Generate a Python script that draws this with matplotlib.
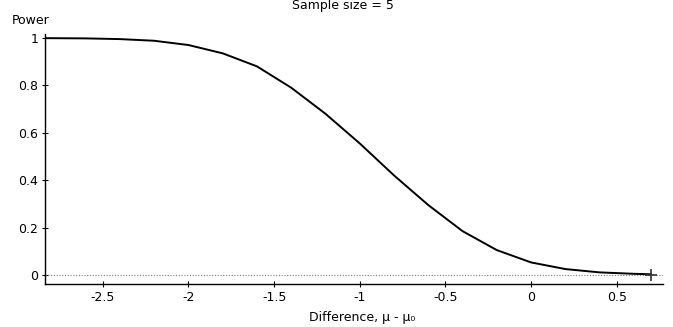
import numpy as np
import matplotlib
matplotlib.use('Agg')
import matplotlib.pyplot as plt

# values
diff = [-2.84, -2.6, -2.4, -2.2, -2.0, -1.8, -1.6, -1.4, -1.2, -1.0,
        -0.8, -0.6, -0.4, -0.2, 0.0, 0.2, 0.4, 0.6, 0.70]
power = [0.999, 0.998, 0.995, 0.988, 0.97, 0.935, 0.88, 0.79, 0.68, 0.555,
         0.42, 0.295, 0.185, 0.105, 0.053, 0.025, 0.011, 0.005, 0.003]
marker_x = [0.70]
marker_y = [0.0]
xticks = [-2.5, -2, -1.5, -1, -0.5, 0, 0.5]
yticks = [0, 0.2, 0.4, 0.6, 0.8, 1]

plt.rcParams['font.family'] = ['DejaVu Sans']
fig = plt.figure(figsize=(6.73, 3.27), dpi=100)
ax = fig.add_axes([45/673, 1-284/327, (663-45)/673, (284-34)/327])

ax.axhline(0, color='#777777', lw=0.8, ls=(0, (1, 1.5)))
ax.plot(diff, power, color='black', lw=1.4, solid_joinstyle='round')
ax.plot(marker_x, marker_y, '+', color='#333333', ms=9, mew=1.2)

ax.set_xlim(-2.837, 0.77)
ax.set_ylim(-0.038, 1.0165)
ax.set_xticks(xticks)
ax.set_xticklabels(['-2.5', '-2', '-1.5', '-1', '-0.5', '0', '0.5'])
ax.set_yticks(yticks)
ax.set_yticklabels(['0', '0.2', '0.4', '0.6', '0.8', '1'])
ax.tick_params(direction='inout', length=4, width=0.8, labelsize=9, pad=3)
for s in ['top', 'right']:
    ax.spines[s].set_visible(False)
for s in ['left', 'bottom']:
    ax.spines[s].set_linewidth(1.0)

fig.text(343/673, 1-5/327, 'Sample size = 5', ha='center', va='center', fontsize=9)
fig.text(12/673, 1-21/327, 'Power', ha='left', va='center', fontsize=9)
fig.text(362/673, 1-318/327, 'Difference, μ - μ₀', ha='center', va='center', fontsize=9)

fig.savefig('out.png', dpi=100)
